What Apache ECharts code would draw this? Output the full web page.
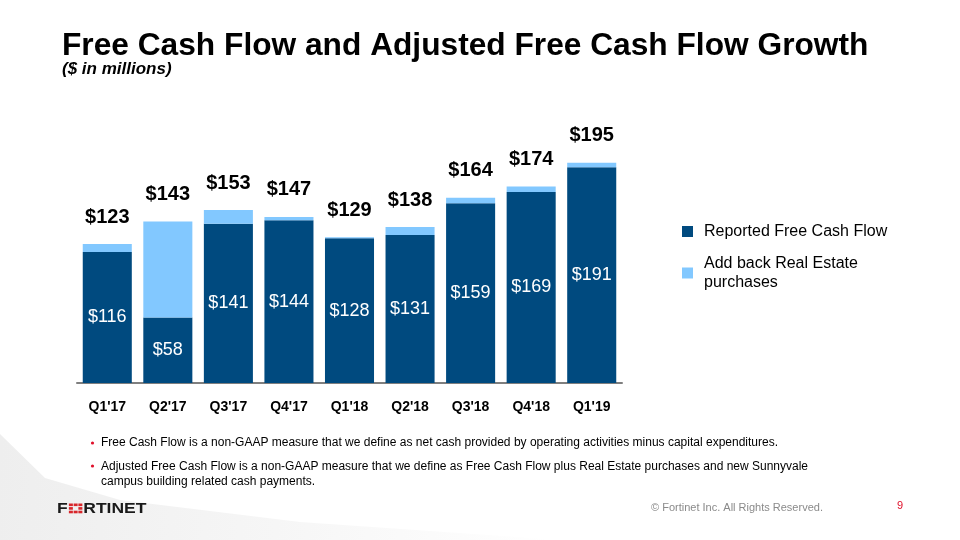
<!DOCTYPE html>
<html><head><meta charset="utf-8">
<script src="https://cdn.jsdelivr.net/npm/echarts@6/dist/echarts.min.js"></script>
<style>html,body{margin:0;padding:0;background:#fff}#c{width:960px;height:540px}</style>
</head><body><div id="c"></div>
<script>
const categories = ["Q1'17","Q2'17","Q3'17","Q4'17","Q1'18","Q2'18","Q3'18","Q4'18","Q1'19"];
const reported = [116, 58, 141, 144, 128, 131, 159, 169, 191];
const totals = [123, 143, 153, 147, 129, 138, 164, 174, 195];
const addBack = [7, 85, 12, 3, 1, 7, 5, 5, 4];
const seriesNames = ['Reported Free Cash Flow', 'Add back Real Estate\npurchases'];

const chart = echarts.init(document.getElementById('c'), null, {renderer: 'canvas'});
const F = 'Liberation Sans, Arial, sans-serif';
const red = '#d8262b';
const sq = (x, y) => ({type: 'rect', shape: {x: x, y: y, width: 3.2, height: 2.6}, style: {fill: red}});
chart.setOption({
  animation: false,
  backgroundColor: '#fff',
  title: [
    {text: 'Free Cash Flow and Adjusted Free Cash Flow Growth', left: 57, top: 25,
     textStyle: {fontFamily: F, fontWeight: 'bold', fontSize: 31.7, color: '#000'}},
    {text: '($ in millions)', left: 57, top: 56,
     textStyle: {fontFamily: F, fontWeight: 'bold', fontStyle: 'italic', fontSize: 17, color: '#000'}}
  ],
  legend: {
    orient: 'vertical', left: 677, top: 217, itemWidth: 11, itemHeight: 11, itemGap: 13,
    icon: 'rect', selectedMode: false,
    textStyle: {fontFamily: F, fontSize: 16, color: '#000', lineHeight: 19, padding: [0,0,0,6]},
    data: seriesNames
  },
  grid: {left: 77, right: 338, top: 157, height: 226, containLabel: false},
  xAxis: {
    type: 'category', data: categories,
    axisLine: {lineStyle: {color: '#7f7f7f', width: 2}},
    axisTick: {alignWithLabel: true, length: 4, lineStyle: {color: '#7f7f7f', width: 1}},
    axisLabel: {fontFamily: F, fontWeight: 'bold', fontSize: 14, color: '#000', margin: 17}
  },
  yAxis: {type: 'value', min: 0, max: 200, show: false, splitLine: {show: false}},
  series: [
    {name: seriesNames[0], type: 'bar', stack: 'a', data: reported, barWidth: '81%',
     itemStyle: {color: '#004A7F'},
     label: {show: true, position: 'inside', color: '#fff', fontFamily: F, fontSize: 18,
             formatter: p => '$' + p.value}},
    {name: seriesNames[1], type: 'bar', stack: 'a', data: addBack, barWidth: '81%',
     itemStyle: {color: '#82C8FF'},
     label: {show: true, position: 'top', distance: 17, color: '#000', fontFamily: F, fontSize: 20, fontWeight: 'bold',
             formatter: p => '$' + totals[p.dataIndex]}}
  ],
  graphic: [
    {type: 'polygon', z: -10, silent: true,
     shape: {points: [[0,434],[45,478],[120,500],[300,522],[560,540],[0,540]]},
     style: {fill: new echarts.graphic.LinearGradient(0,0,1,0.3,[{offset:0,color:'#eeeeee'},{offset:0.5,color:'#f6f6f6'},{offset:1,color:'#ffffff'}])}},
    {type: 'circle', shape: {cx: 92.5, cy: 443, r: 1.6}, style: {fill: '#e0102a'}},
    {type: 'text', left: 101, top: 437, style: {text: 'Free Cash Flow is a non-GAAP measure that we define as net cash provided by operating activities minus capital expenditures.', fill: '#000', font: '12px ' + F}},
    {type: 'circle', shape: {cx: 92.5, cy: 466, r: 1.6}, style: {fill: '#e0102a'}},
    {type: 'text', left: 101, top: 459, style: {text: 'Adjusted Free Cash Flow is a non-GAAP measure that we define as Free Cash Flow plus Real Estate purchases and new Sunnyvale\ncampus building related cash payments.', fill: '#000', font: '12px ' + F, lineHeight: 15}},
    {type: 'group', x: 57, y: 502, scaleX: 1.25, children: [
      {type: 'text', x: 0, y: 0, style: {text: 'F', fill: '#1a1a1a', font: 'bold 14px ' + F}},
      {type: 'group', x: 9.5, y: 1.5, children: [
        sq(0,0), sq(3.8,0), sq(7.6,0), sq(0,3.6), sq(7.6,3.6), sq(0,7.2), sq(3.8,7.2), sq(7.6,7.2)
      ]},
      {type: 'text', x: 21, y: 0, style: {text: 'RTINET', fill: '#1a1a1a', font: 'bold 14px ' + F}}
    ]},
    {type: 'text', left: 651, top: 502, style: {text: '© Fortinet Inc. All Rights Reserved.', fill: '#8a8a8a', font: '11px ' + F}},
    {type: 'text', left: 897, top: 500, style: {text: '9', fill: '#e0102a', font: '11px ' + F}}
  ]
});
</script></body></html>
